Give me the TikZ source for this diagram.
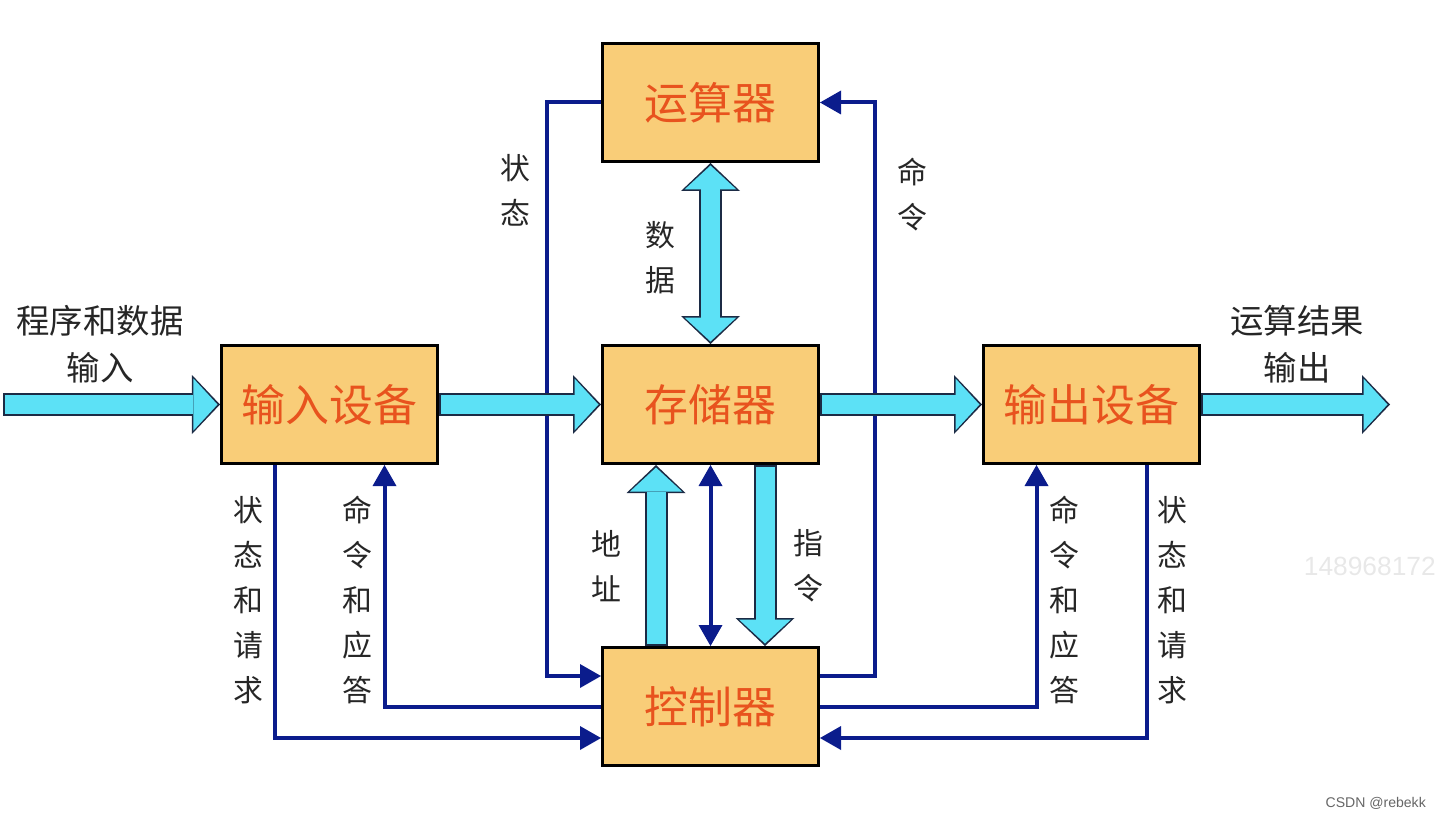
\documentclass[tikz,border=0pt]{standalone}
\usepackage{fontspec}
\setmainfont{Noto Sans CJK SC}
\newfontfamily\wmfont{Liberation Sans}
\usepackage{tikz}
\usetikzlibrary{positioning,calc,arrows.meta}
\definecolor{boxfill}{HTML}{F9CD78}
\definecolor{boxtext}{HTML}{E8531E}
\definecolor{buscyan}{HTML}{5CE1F6}
\definecolor{busedge}{HTML}{1C2B45}
\definecolor{ctrlblue}{HTML}{0B1C8C}
\tikzset{
  fattip/.tip={Triangle[length=4.8mm,width=10.4mm,line width=0pt]},
  fatedge/.tip={Triangle[length=5.6mm,width=11.8mm,line width=0pt]},
  navytip/.tip={Triangle[length=4.2mm,width=4.8mm,line width=0pt]},
  cpu box/.style={rectangle, draw=black, line width=0.6mm, fill=boxfill, text=boxtext,
    minimum width=43.2mm, minimum height=23.6mm, font=\fontsize{25pt}{30pt}\selectfont},
  fat arrow/.style={draw=buscyan, line width=3.8mm, -{fattip}, shorten >=0.5mm, shorten <=0.4mm,
    preaction={draw=busedge, line width=4.6mm, -{fatedge}, shorten >=0pt, shorten <=0pt}},
  fat both/.style={draw=buscyan, line width=3.8mm, {fattip}-{fattip}, shorten >=0.5mm, shorten <=0.5mm,
    preaction={draw=busedge, line width=4.6mm, {fatedge}-{fatedge}, shorten >=0pt, shorten <=0pt}},
  ctrl line/.style={draw=ctrlblue, line width=0.8mm, -{navytip}},
  bus label/.style={align=center, text=black!85, font=\fontsize{17pt}{25.6pt}\selectfont},
  io label/.style={align=center, text=black!85, font=\fontsize{19pt}{27pt}\selectfont}
}

\begin{document}
\begin{tikzpicture}[x=0.2mm, y=-0.2mm]
    \useasboundingbox (0,0) rectangle (1444,818);
    % units
    \node [cpu box] (mem) at (710.5,404.5) {存储器};
    \node [cpu box, above=36.2mm of mem] (alu) {运算器};
    \node [cpu box, below=36.2mm of mem] (ctrl) {控制器};
    \node [cpu box, left=32.4mm of mem] (indev) {输入设备};
    \node [cpu box, right=32.4mm of mem] (outdev) {输出设备};
    \coordinate (src) at (3,404.5);
    \coordinate (sink) at (1390,404.5);

    % control paths
    \draw [ctrl line] (alu.west) -- ++(-10.8mm,0) |- ([yshift=6.1mm]ctrl.west);
    \draw [ctrl line] ([yshift=6.1mm]ctrl.east) -- ++(11mm,0) |- (alu.east);
    \draw [ctrl line] ([xshift=-10.8mm]indev.south) |- ([yshift=-6.3mm]ctrl.west);
    \draw [ctrl line] (ctrl.west) -| ([xshift=11mm]indev.south);
    \draw [ctrl line] (ctrl.east) -| ([xshift=-11mm]outdev.south);
    \draw [ctrl line] ([xshift=11mm]outdev.south) |- ([yshift=-6.3mm]ctrl.east);

    % data paths
    \draw [fat arrow] (src) -- (indev.west);
    \draw [fat arrow] (indev.east) -- (mem.west);
    \draw [fat arrow] (mem.east) -- (outdev.west);
    \draw [fat arrow] (outdev.east) -- (sink);
    \draw [fat both] (alu.south) -- (mem.north);
    \draw [fat arrow] ([xshift=-10.9mm]ctrl.north) -- ([xshift=-10.9mm]mem.south);
    \draw [fat arrow] ([xshift=10.9mm]mem.south) -- ([xshift=10.9mm]ctrl.north);
    \draw [ctrl line, {navytip}-{navytip}] (mem.south) -- (ctrl.north);

    % labels
    \node [io label] (lin) at (100,344) {程序和数据\\输入};
    \node [io label] (lout) at (1297,344) {运算结果\\输出};
    \node [bus label] (lstate) at (515,190) {状\\态};
    \node [bus label] (lcmd) at (912,195) {命\\令};
    \node [bus label] (ldata) at (660,258) {数\\据};
    \node [bus label] (laddr) at (606,566) {地\\址};
    \node [bus label] (linstr) at (808,566) {指\\令};
    \node [bus label] (lreqin) at (248,600) {状\\态\\和\\请\\求};
    \node [bus label] (lackin) at (357,600) {命\\令\\和\\应\\答};
    \node [bus label] (lackout) at (1064,600) {命\\令\\和\\应\\答};
    \node [bus label] (lreqout) at (1172,600) {状\\态\\和\\请\\求};

    % watermarks
    \node [anchor=east, text=black!9, font=\wmfont\fontsize{15pt}{18pt}\selectfont] (wm) at (1442,566) {148968172};
    \node [anchor=east, text=black!60, font=\wmfont\fontsize{8pt}{10pt}\selectfont] (csdn) at (1432,803) {CSDN @rebekk};
\end{tikzpicture}
\end{document}
